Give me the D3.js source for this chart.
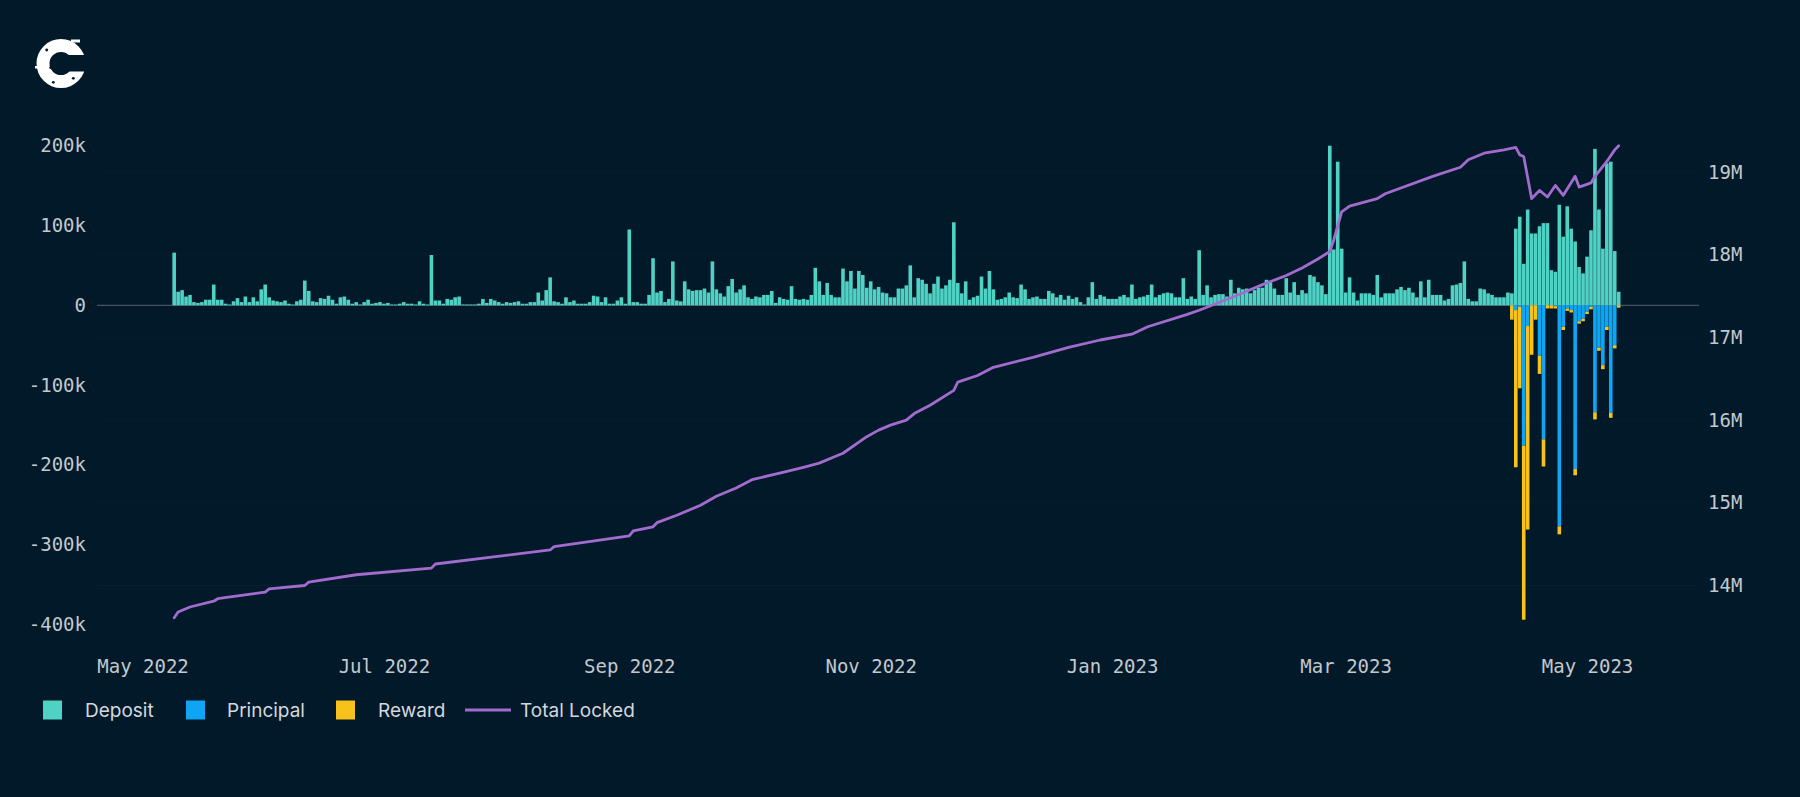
<!DOCTYPE html>
<html>
<head>
<meta charset="utf-8">
<script src="https://cdn.jsdelivr.net/npm/d3@7"></script>
<style>
  html, body { margin: 0; padding: 0; background: #02192a; }
  svg { display: block; }
</style>
</head>
<body>
<svg id="chart" width="1800" height="797"></svg>
<script>
// ---------------- DATA ----------------
// Daily deposits (thousands), first day 2022-05-09
const depositStart = "2022-05-09";
const deposit = [
  66,17,19,11,13,4,3,4,7,7, 26,7,7,2,1,5,9,4,11,4, 10,5,20,26,10,6,5,4,6,2,
  1,5,7,31,18,5,4,9,8,12, 7,2,10,11,7,2,4,1,4,7, 2,3,4,2,3,1,1,2,4,2,
  2,1,5,2,1,63,6,6,2,8, 7,10,
  11,1,1,1,1,2,8,3,8,6, 4,2,4,3,4,5,2,2,4,4, 16,6,19,35,5,4,2,10,4,6,
  2,2,2,4,12,11,4,10,2,2, 6,10,2,95,4,4,2,2,13,59, 16,18,4,8,55,6,5,30,20,18,
  19,19,21,16,55,20,15,11,24,33, 16,20,25,10,8,11,
  10,13,13,18,3,10,8,7,24,8, 7,8,7,13,47,30,13,28,13,10, 10,46,30,43,21,43,38,22,30,20,
  23,16,15,10,10,21,21,25,50,10, 34,32,27,15,27,36,21,25,32,104, 28,15,30,7,10,12,36,21,43,20,
  7,8,10,16,10,9,26,20,8,10, 11,8,8,18,15,10,
  13,7,12,8,10,4,1,10,29,8, 13,11,8,8,8,11,13,10,26,8, 10,11,13,26,10,13,15,16,15,10,
  10,34,8,11,8,69,13,25,10,13, 14,14,11,32,15,22,20,21,15,19, 22,22,32,29,21,13,13,34,16,29,
  13,
  19,15,38,36,29,25,14,200,70,180, 71,16,35,16,6,15,15,15,13,38, 10,15,15,15,20,23,19,22,16,10,
  30,10,32,13,13,13,6,8,25,26, 28,55,8,5,5,21,20,15,13,10, 10,10,16,
  15,96,111,52,120,90,90,99,103,103, 44,42,126,86,124,96,80,48,40,61, 94,196,120,71,178,180,68,17
];

// Daily withdrawals (thousands, drawn below zero), first day 2023-04-12
const withdrawStart = "2023-04-12";
const principal = [
  0,6,2,176,26,0,0,63,168,0, 0,1,277,27,4,6,205,20,17,8, 2,134,53,75,27,135,50,0
];
const reward = [
  18,197,102,218,255,62,18,23,34,4, 4,3,10,4,3,3,8,3,3,3, 3,9,4,5,4,6,4,3
];

// Total locked (millions)
const lockedDates = [
  "2022-05-09","2022-05-10","2022-05-13","2022-05-19","2022-05-20","2022-06-01","2022-06-02",
  "2022-06-11","2022-06-12","2022-06-24","2022-07-13","2022-07-14","2022-08-12","2022-08-13",
  "2022-09-01","2022-09-02","2022-09-07","2022-09-08","2022-09-13","2022-09-19","2022-09-23",
  "2022-09-28","2022-10-02","2022-10-09","2022-10-15","2022-10-19","2022-10-23","2022-10-25",
  "2022-10-31","2022-11-03","2022-11-06","2022-11-10","2022-11-12","2022-11-16","2022-11-22",
  "2022-11-23","2022-11-28","2022-12-02","2022-12-12","2022-12-21","2022-12-29","2023-01-06",
  "2023-01-10","2023-01-20","2023-01-23","2023-02-01","2023-02-08","2023-02-14","2023-02-18",
  "2023-02-22","2023-02-25","2023-02-26","2023-02-28","2023-03-02","2023-03-09","2023-03-11",
  "2023-03-23","2023-03-30","2023-04-01","2023-04-05","2023-04-10","2023-04-13","2023-04-14",
  "2023-04-15","2023-04-17","2023-04-18","2023-04-19","2023-04-21","2023-04-23","2023-04-25",
  "2023-04-28","2023-04-29","2023-05-02","2023-05-03","2023-05-06","2023-05-08","2023-05-09"
];
const lockedValues = [
  13.61,13.68,13.74,13.81,13.84,13.92,13.96,
  14.00,14.04,14.13,14.21,14.26,14.43,14.47,
  14.60,14.66,14.71,14.76,14.85,14.97,15.08,
  15.18,15.28,15.36,15.43,15.48,15.56,15.60,
  15.80,15.88,15.94,16.00,16.08,16.18,16.36,
  16.46,16.54,16.64,16.76,16.88,16.97,17.04,
  17.13,17.28,17.33,17.50,17.64,17.75,17.84,
  17.95,18.04,18.18,18.52,18.59,18.68,18.74,
  18.95,19.06,19.15,19.23,19.27,19.30,19.21,
  19.19,18.68,18.73,18.78,18.70,18.84,18.72,
  18.95,18.82,18.87,18.95,19.13,19.27,19.32
];

const leftTicks = [200000, 100000, 0, -100000, -200000, -300000, -400000];
const rightTicks = [14e6, 15e6, 16e6, 17e6, 18e6, 19e6];
const seriesKeys = ["Deposit", "Principal", "Reward"];
const lineLabel = "Total Locked";

// ---------------- STYLE ----------------
const colors = { Deposit: "#4fd1c4", Principal: "#0ea6f2", Reward: "#f7c21a", line: "#a26cce" };
const BG = "#02192a";
const tickColor = "#c3c8cd";
const monoFont = "'DejaVu Sans Mono', 'Liberation Mono', monospace";
const sansFont = "Inter, 'Noto Sans', sans-serif";

const svg = d3.select("#chart");
svg.append("rect").attr("width", 1800).attr("height", 797).attr("fill", BG);

const parse = d3.utcParse("%Y-%m-%d");
const x = d3.scaleUtc()
  .domain([Date.UTC(2022, 3, 19, 12), Date.UTC(2023, 4, 29, 7)])
  .range([97, 1699]);
const yL = d3.scaleLinear().domain([-400000, 200000]).range([624.5, 145.7]);
const yR = d3.scaleLinear().domain([14e6, 19e6]).range([585.5, 172.2]);

// build daily table
const d0 = parse(depositStart), w0 = parse(withdrawStart);
const table = deposit.map((v, i) => {
  const date = d3.utcDay.offset(d0, i);
  const wi = d3.utcDay.count(w0, date);
  const p = wi >= 0 && wi < principal.length ? principal[wi] : 0;
  const r = wi >= 0 && wi < reward.length ? reward[wi] : 0;
  return { date, Deposit: v * 1000, Principal: -p * 1000, Reward: -r * 1000 };
});

// grid (right axis)
svg.append("g").selectAll("line").data(rightTicks).join("line")
  .attr("x1", 97).attr("x2", 1699)
  .attr("y1", d => yR(d)).attr("y2", d => yR(d))
  .attr("stroke", "#ffffff").attr("stroke-opacity", 0.025).attr("stroke-width", 1);

// zero line
svg.append("line")
  .attr("x1", 97).attr("x2", 1699)
  .attr("y1", yL(0)).attr("y2", yL(0))
  .attr("stroke", "#55636e").attr("stroke-width", 1);

// stacked bars
const stack = d3.stack().keys(seriesKeys).offset(d3.stackOffsetDiverging);
const stacked = stack(table);
const barW = 3.6;
svg.append("g").selectAll("g").data(stacked).join("g")
  .attr("fill", s => colors[s.key])
  .selectAll("rect").data(s => s.filter(d => d[1] - d[0] !== 0)).join("rect")
  .attr("x", d => x(d.data.date) - barW / 2)
  .attr("width", barW)
  .attr("y", d => yL(Math.max(d[0], d[1])))
  .attr("height", d => Math.abs(yL(d[0]) - yL(d[1])));

// total locked line
const lineData = lockedDates.map((s, i) => ({ date: parse(s), v: lockedValues[i] * 1e6 }));
svg.append("path").datum(lineData)
  .attr("fill", "none")
  .attr("stroke", colors.line)
  .attr("stroke-width", 2.8)
  .attr("stroke-linejoin", "round")
  .attr("stroke-linecap", "round")
  .attr("d", d3.line().x(d => x(d.date)).y(d => yR(d.v)));

// axes
const fmtK = d => d === 0 ? "0" : d3.format("~s")(d).replace("\u2212", "-");
const gl = svg.append("g").attr("transform", "translate(97,0)")
  .call(d3.axisLeft(yL).tickValues(leftTicks).tickFormat(fmtK).tickSize(0).tickPadding(11));
const gr = svg.append("g").attr("transform", "translate(1699,0)")
  .call(d3.axisRight(yR).tickValues(rightTicks).tickFormat(d => (d / 1e6) + "M").tickSize(0).tickPadding(9));
const gb = svg.append("g").attr("transform", "translate(0,672.5)")
  .call(d3.axisBottom(x).ticks(d3.utcMonth.every(2)).tickFormat(d3.utcFormat("%b %Y")).tickSize(0));
gb.selectAll("text").attr("y", 0).attr("dy", 0);
[gl, gr, gb].forEach(g => {
  g.select(".domain").remove();
  g.selectAll("text").attr("fill", tickColor).style("font-family", monoFont).style("font-size", "19px");
});

// legend
const legend = svg.append("g");
const sq = [
  { key: "Deposit", x: 43, tx: 85 },
  { key: "Principal", x: 186, tx: 227 },
  { key: "Reward", x: 336, tx: 378 }
];
legend.selectAll("rect").data(sq).join("rect")
  .attr("x", d => d.x).attr("y", 700.5).attr("width", 19).attr("height", 19)
  .attr("fill", d => colors[d.key]);
legend.selectAll("text.s").data(sq).join("text").attr("class", "s")
  .attr("x", d => d.tx).attr("y", 710).attr("dy", "0.35em")
  .text(d => d.key);
legend.append("line").attr("x1", 465).attr("x2", 511).attr("y1", 710).attr("y2", 710)
  .attr("stroke", colors.line).attr("stroke-width", 3);
legend.append("text").attr("x", 520).attr("y", 710).attr("dy", "0.35em").text(lineLabel);
legend.selectAll("text").attr("fill", "#d4d8dc").style("font-family", sansFont).style("font-size", "19px");

// logo
const logo = svg.append("g").attr("transform", "translate(61,63.5)");
const ring = d3.path();
ring.arc(0, 0, 24.5, 0, 2 * Math.PI);
ring.moveTo(11.5, 0);
ring.arc(0, 0, 11.5, 0, 2 * Math.PI);
logo.append("path").attr("d", ring.toString()).attr("fill", "#ffffff").attr("fill-rule", "evenodd");
logo.append("rect").attr("x", 4).attr("y", -8.5).attr("width", 24).attr("height", 16.5).attr("fill", BG);
logo.append("rect").attr("x", -26).attr("y", 2.5).attr("width", 5).attr("height", 2.5).attr("fill", "#ffffff");
logo.append("rect").attr("x", 10).attr("y", -24).attr("width", 9).attr("height", 3).attr("fill", "#ffffff");
[[-14.3, -13.5], [-10.3, 4.2], [-7.7, 18.8], [12.3, 14.8]].forEach(p => {
  logo.append("circle").attr("cx", p[0]).attr("cy", p[1]).attr("r", 1.4).attr("fill", BG);
});
</script>
</body>
</html>
